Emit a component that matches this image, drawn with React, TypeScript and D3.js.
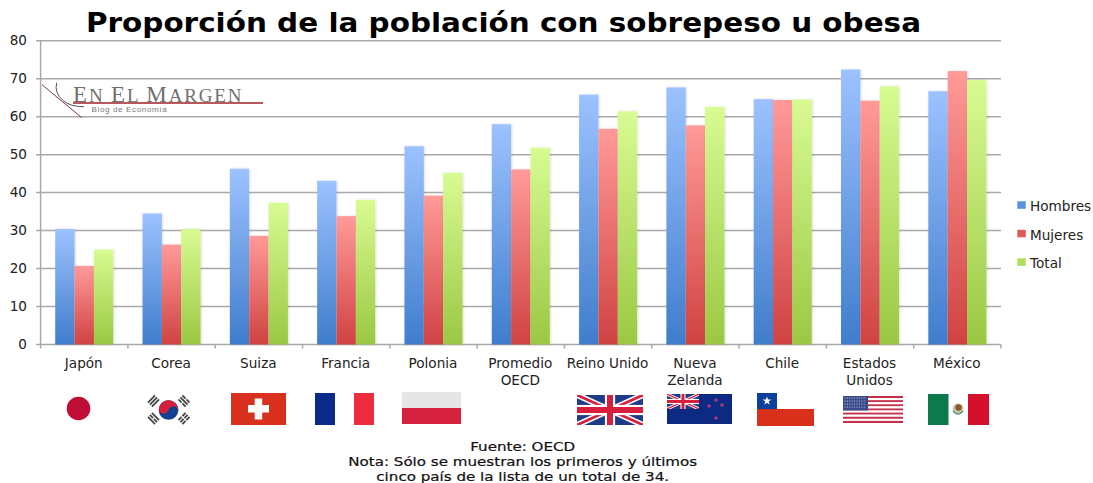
import React from "react";
import * as d3 from "d3";

const categories = [
  ["Japón"], ["Corea"], ["Suiza"], ["Francia"], ["Polonia"], ["Promedio", "OECD"],
  ["Reino Unido"], ["Nueva", "Zelanda"], ["Chile"], ["Estados", "Unidos"], ["México"],
];
const hombres = [30.4, 34.5, 46.3, 43.1, 52.2, 58, 65.8, 67.7, 64.6, 72.4, 66.7];
const mujeres = [20.7, 26.3, 28.6, 33.8, 39.2, 46.1, 56.8, 57.7, 64.4, 64.2, 72];
const total = [25, 30.4, 37.3, 38.1, 45.2, 51.8, 61.4, 62.6, 64.5, 68, 69.6];
const seriesNames = ["Hombres", "Mujeres", "Total"];
const seriesValues = [hombres, mujeres, total];
const gradients = [
  ["#9cc2ff", "#3f7dcc"],
  ["#ff9a98", "#d04242"],
  ["#d8fb92", "#9ac843"],
];
const legendSwatch = ["#5c93dc", "#e05a58", "#b2dc5c"];
const yTicks = [0, 10, 20, 30, 40, 50, 60, 70, 80];
const noteLines = ["Fuente: OECD", "Nota: Sólo se muestran los primeros y últimos", "cinco país de la lista de un total de 34."];

const font = "'DejaVu Sans', Verdana, sans-serif";
const left = 40.6, right = 1001, top = 40.7, bottom = 344.5;

const x = d3.scaleBand<number>().domain(d3.range(categories.length)).range([left, right]);
const y = d3.scaleLinear().domain([0, 80]).range([bottom, top]);
const barW = 19.35;
const groupW = barW * 3;

function Trigram({ cx, cy, angle, breaks }: { cx: number; cy: number; angle: number; breaks: boolean[] }) {
  return (
    <g transform={`translate(${cx},${cy}) rotate(${angle})`}>
      {breaks.map((b, i) => {
        const yy = (i - 1) * 2.8;
        return b ? (
          <g key={i}>
            <rect x={-5} y={yy - 0.9} width={4.4} height={1.8} fill="#444" />
            <rect x={0.6} y={yy - 0.9} width={4.4} height={1.8} fill="#444" />
          </g>
        ) : (
          <rect key={i} x={-5} y={yy - 0.9} width={10} height={1.8} fill="#444" />
        );
      })}
    </g>
  );
}

function UnionJack({ X, Y, w, h }: { X: number; Y: number; w: number; h: number }) {
  const navy = "#1f3a86", red = "#d81e3c";
  const id = `uj${X}`;
  const sw = h * 0.09;
  return (
    <g>
      <clipPath id={id}><rect x={X} y={Y} width={w} height={h} /></clipPath>
      <g clipPath={`url(#${id})`}>
        <rect x={X} y={Y} width={w} height={h} fill={navy} />
        <path d={`M${X},${Y}L${X + w},${Y + h}M${X + w},${Y}L${X},${Y + h}`} stroke="#fff" strokeWidth={h * 0.2} />
        <path d={`M${X},${Y}L${X + w},${Y + h}M${X + w},${Y}L${X},${Y + h}`} stroke={red} strokeWidth={sw} />
        <rect x={X + w / 2 - h * 0.17} y={Y} width={h * 0.34} height={h} fill="#fff" />
        <rect x={X} y={Y + h * 0.33} width={w} height={h * 0.34} fill="#fff" />
        <rect x={X + w / 2 - h * 0.1} y={Y} width={h * 0.2} height={h} fill={red} />
        <rect x={X} y={Y + h * 0.4} width={w} height={h * 0.2} fill={red} />
      </g>
    </g>
  );
}

function Flags() {
  const nzStars: [number, number][] = [[716, 400], [709, 406], [722, 405], [716, 418]];
  const usStripes = d3.range(13);
  const stars = d3.range(4).flatMap((r) => d3.range(9).map((c) => [845 + c * 2.4, 398 + r * 3]));
  return (
    <g>
      {/* Japón */}
      <circle cx={78.5} cy={408.5} r={11.8} fill="#c00d33" />
      {/* Corea */}
      <g>
        <circle cx={168.5} cy={410} r={9.8} fill="#123f8f" />
        <path d="M158.7,410 A9.8,9.8 0 0 1 178.3,410 A4.9,4.9 0 0 0 168.5,410 A4.9,4.9 0 0 1 158.7,410Z" fill="#d3203a" transform="rotate(15 168.5 410)" />
        <Trigram cx={153.5} cy={401} angle={-45} breaks={[false, false, false]} />
        <Trigram cx={184} cy={401} angle={45} breaks={[true, false, true]} />
        <Trigram cx={153.5} cy={418.5} angle={45} breaks={[false, true, false]} />
        <Trigram cx={184} cy={418.5} angle={-45} breaks={[true, true, true]} />
      </g>
      {/* Suiza */}
      <rect x={231} y={393} width={55} height={32} fill="#d8301c" />
      <rect x={248} y={405} width={21} height={7.5} fill="#fff" />
      <rect x={254.7} y={398.5} width={7.5} height={21} fill="#fff" />
      {/* Francia */}
      <rect x={315} y={393} width={20} height={32} fill="#0a2a8c" />
      <rect x={354} y={393} width={20} height={32} fill="#ee2c3f" />
      {/* Polonia */}
      <rect x={402} y={392} width={59} height={16} fill="#e6e6e6" />
      <rect x={402} y={408} width={59} height={16} fill="#d5223f" />
      {/* Reino Unido */}
      <UnionJack X={577} Y={395} w={66} h={30} />
      {/* Nueva Zelanda */}
      <rect x={667} y={394} width={65} height={30} fill="#0d2a83" />
      <UnionJack X={667} Y={394} w={32} h={15} />
      {nzStars.map(([sx, sy], i) => (
        <circle key={i} cx={sx} cy={sy} r={1.8} fill="#a93a78" />
      ))}
      {/* Chile */}
      <rect x={757} y={393} width={57} height={16} fill="#fff" />
      <rect x={757} y={409} width={57} height={17} fill="#d9301c" />
      <rect x={757} y={393} width={20} height={16} fill="#0d3f9c" />
      <path d={d3.symbol().type(d3.symbolStar).size(24)() as string} transform="translate(767,401)" fill="#fff" />
      {/* Estados Unidos */}
      {usStripes.map((i) => (
        <rect key={i} x={843} y={396 + (i * 27) / 13} width={60} height={27 / 13} fill={i % 2 ? "#fff" : "#c4324a"} />
      ))}
      <rect x={843} y={396} width={25} height={14.5} fill="#3a4a8c" />
      {stars.map(([sx, sy], i) => (
        <circle key={i} cx={sx} cy={sy} r={0.6} fill="#d8dcf0" />
      ))}
      {/* México */}
      <rect x={928} y={394} width={20.5} height={31} fill="#0c7a4c" />
      <rect x={968} y={394} width={21} height={31} fill="#d4102c" />
      <circle cx={958} cy={409} r={5.5} fill="#c8c6aa" />
      <circle cx={958.5} cy={407.5} r={3.2} fill="#8a5a2c" />
      <path d="M953,411 Q958,417 963,411" fill="none" stroke="#5f9a78" strokeWidth={1.5} />
    </g>
  );
}

function Logo() {
  const serif = "'Liberation Serif', serif";
  return (
    <g>
      <path d="M42,84.7 L81.7,117.7" stroke="#7c3a44" strokeWidth={1} fill="none" />
      <path d="M56.7,82.7 Q54,93 63.3,100.7 Q70,106.7 84,106.7" stroke="#555" strokeWidth={1} fill="none" />
      <text x={73} y={102} fontFamily={serif} fill="#6f6f6f" textLength={168.5} lengthAdjust="spacing">
        <tspan fontSize={23}>E</tspan><tspan fontSize={19}>N </tspan>
        <tspan fontSize={23}>E</tspan><tspan fontSize={19}>L </tspan>
        <tspan fontSize={23}>M</tspan><tspan fontSize={19}>ARGEN</tspan>
      </text>
      <line x1={73} x2={263} y1={103} y2={103} stroke="#b5595d" strokeWidth={1.8} />
      <text x={91.5} y={111.5} fontFamily="'Liberation Sans', sans-serif" fontSize={8} letterSpacing={0.65} fill="#777">Blog de Economía</text>
    </g>
  );
}

export default function App() {
  return (
    <svg width={1093} height={483} style={{ position: "absolute", left: 0, top: 0, background: "#fff" }}>
      <defs>
        {gradients.map(([a, b], i) => (
          <linearGradient key={i} id={`bar${i}`} x1={0} x2={0} y1={0} y2={1}>
            <stop offset="0" stopColor={a} />
            <stop offset="1" stopColor={b} />
          </linearGradient>
        ))}
        <filter id="barShadow" x="-20%" y="-5%" width="140%" height="110%">
          <feDropShadow dx={0.8} dy={0} stdDeviation={1} floodColor="#000" floodOpacity={0.15} />
        </filter>
      </defs>

      <text x={503.5} y={32} textAnchor="middle" fontFamily={font} fontWeight="bold" fontSize={26} fill="#000" textLength={835} lengthAdjust="spacingAndGlyphs">
        Proporción de la población con sobrepeso u obesa
      </text>

      {yTicks.map((t) => (
        <g key={t}>
          <line x1={36} x2={right} y1={y(t)} y2={y(t)} stroke="#a9a9a9" strokeWidth={1.5} />
          <text x={27} y={y(t) + 4.5} textAnchor="end" fontFamily={font} fontSize={13.6} fill="#222">{t}</text>
        </g>
      ))}
      <line x1={left} x2={left} y1={top} y2={bottom} stroke="#a9a9a9" strokeWidth={1.5} />
      {d3.range(categories.length + 1).map((i) => {
        const tx = left + i * x.bandwidth();
        return <line key={i} x1={tx} x2={tx} y1={bottom} y2={bottom + 4} stroke="#a9a9a9" strokeWidth={1.5} />;
      })}

      <Logo />

      {categories.map((_, i) =>
        seriesValues.map((vals, s) => {
          const bx = (x(i) as number) + (x.bandwidth() - groupW) / 2 + s * barW;
          return <rect key={`${i}-${s}`} x={bx} y={y(vals[i])} width={barW} height={bottom - y(vals[i])} fill={`url(#bar${s})`} filter="url(#barShadow)" />;
        })
      )}

      {categories.map((lines, i) => (
        <text key={i} textAnchor="middle" fontFamily={font} fontSize={13.6} fill="#222">
          {lines.map((l, j) => (
            <tspan key={j} x={(x(i) as number) + x.bandwidth() / 2 - 0.5} y={368 + j * 17}>{l}</tspan>
          ))}
        </text>
      ))}

      <Flags />

      {seriesNames.map((n, i) => {
        const ly = 206 + i * 28.5;
        return (
          <g key={n}>
            <rect x={1017.3} y={ly - 4.7} width={8.5} height={7.5} fill={legendSwatch[i]} />
            <text x={1030} y={ly + 5} fontFamily={font} fontSize={13.6} fill="#222">{n}</text>
          </g>
        );
      })}

      {noteLines.map((l, i) => (
        <text key={i} transform={`translate(522.7,${451 + i * 15}) scale(1.26,1)`} textAnchor="middle" fontFamily={font} fontSize={12} fill="#111" stroke="#111" strokeWidth={0.2}>{l}</text>
      ))}
    </svg>
  );
}
